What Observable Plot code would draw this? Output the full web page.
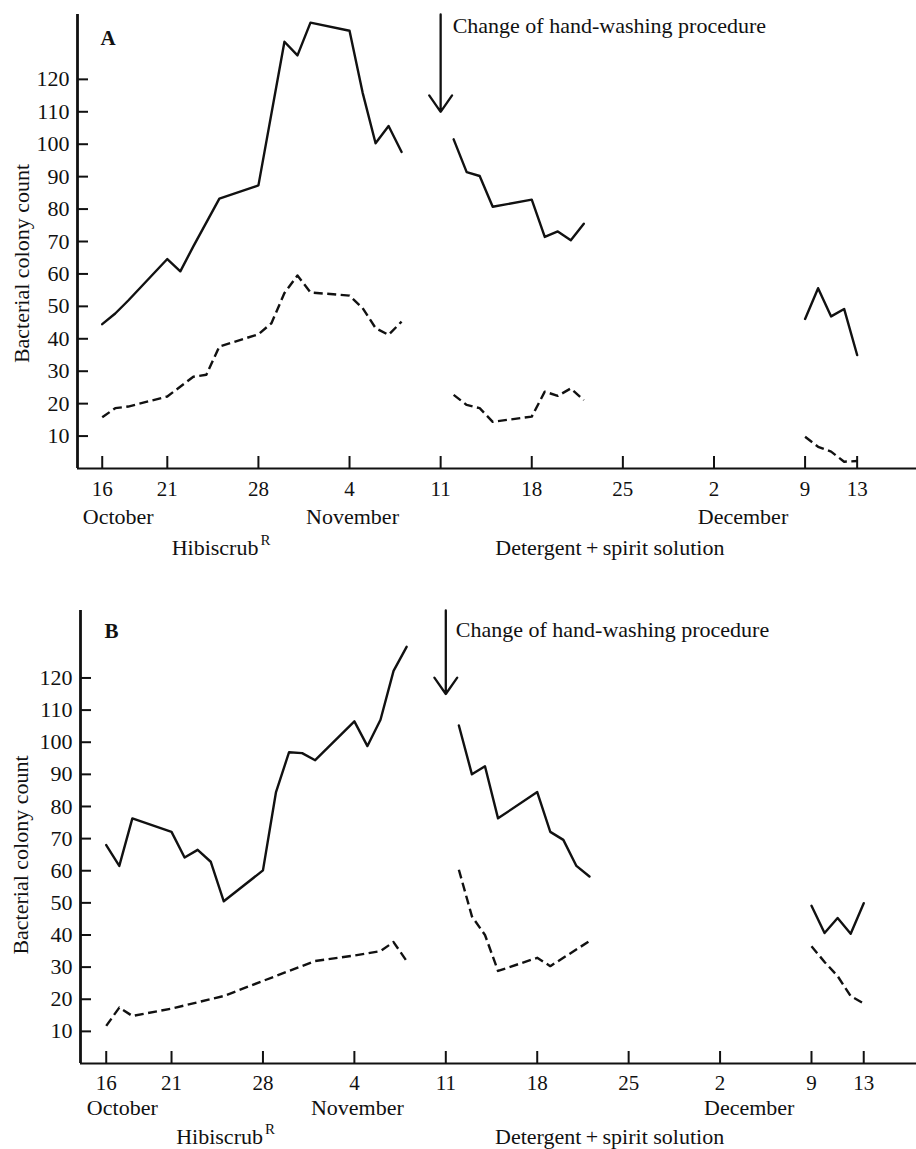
<!DOCTYPE html>
<html>
<head>
<meta charset="utf-8">
<script src="https://cdn.jsdelivr.net/npm/d3@7"></script>
<script src="https://cdn.jsdelivr.net/npm/@observablehq/plot@0.6"></script>
<style>
  html, body { margin: 0; padding: 0; background: #fff; }
  #chart svg { display: block; }
</style>
</head>
<body>
<div id="chart"></div>
<script>
// ---------- Data ----------
const xTickDates = ["1974-10-16","1974-10-21","1974-10-28","1974-11-04","1974-11-11","1974-11-18","1974-11-25","1974-12-02","1974-12-09","1974-12-13"];
const yTicks = [10,20,30,40,50,60,70,80,90,100,110,120];
const monthLabels = ["October","November","December"];
const monthLabelDates = ["1974-10-17","1974-11-04","1974-12-04"];
const firstTreatmentLabel = "Hibiscrub";
const firstTreatmentDate = "1974-10-28";
const secondTreatmentLabel = "Detergent\u2009+\u2009spirit solution";
const secondTreatmentDate = "1974-11-24";
const superscriptLabel = "R";
const changeDate = "1974-11-11";
const changeLabel = "Change of hand-washing procedure";
const yLabel = "Bacterial colony count";

// Panel A
const aSolidDates = ["1974-10-16","1974-10-17","1974-10-18","1974-10-21","1974-10-22","1974-10-23","1974-10-25","1974-10-28","1974-10-30","1974-10-31","1974-11-01","1974-11-04","1974-11-05","1974-11-06","1974-11-07","1974-11-08",
  "1974-11-11",
  "1974-11-12","1974-11-13","1974-11-14","1974-11-15","1974-11-18","1974-11-19","1974-11-20","1974-11-21","1974-11-22",
  "1974-12-02",
  "1974-12-09","1974-12-10","1974-12-11","1974-12-12","1974-12-13"];
const aSolidValues = [44.5,47.8,51.8,64.6,60.8,68.5,83.2,87.3,131.6,127.4,137.5,135,116,100.3,105.6,97.6,
  null,
  101.5,91.4,90.2,80.7,82.9,71.4,73.1,70.4,75.5,
  null,
  46.1,55.6,46.9,49.2,35];
const aDashedDates = ["1974-10-16","1974-10-17","1974-10-18","1974-10-21","1974-10-23","1974-10-24","1974-10-25","1974-10-28","1974-10-29","1974-10-30","1974-10-31","1974-11-01","1974-11-04","1974-11-05","1974-11-06","1974-11-07","1974-11-08",
  "1974-11-11",
  "1974-11-12","1974-11-13","1974-11-14","1974-11-15","1974-11-18","1974-11-19","1974-11-20","1974-11-21","1974-11-22",
  "1974-12-02",
  "1974-12-09","1974-12-10","1974-12-11","1974-12-12","1974-12-13"];
const aDashedValues = [15.8,18.6,19.1,22.2,28.3,28.9,37.6,41.4,44.8,54.1,59.5,54.3,53.3,49.5,43.3,41.2,45.3,
  null,
  22.7,19.6,18.6,14.4,16,23.7,22.4,24.7,21.1,
  null,
  9.8,6.7,5.2,2.1,2.3];

// Panel B
const bSolidDates = ["1974-10-16","1974-10-17","1974-10-18","1974-10-21","1974-10-22","1974-10-23","1974-10-24","1974-10-25","1974-10-28","1974-10-29","1974-10-30","1974-10-31","1974-11-01","1974-11-04","1974-11-05","1974-11-06","1974-11-07","1974-11-08",
  "1974-11-11",
  "1974-11-12","1974-11-13","1974-11-14","1974-11-15","1974-11-18","1974-11-19","1974-11-20","1974-11-21","1974-11-22",
  "1974-12-02",
  "1974-12-09","1974-12-10","1974-12-11","1974-12-12","1974-12-13"];
const bSolidValues = [68,61.5,76.3,72.1,64.1,66.5,62.8,50.5,60.1,84.5,96.9,96.6,94.4,106.5,98.8,107,122.2,129.7,
  null,
  105.2,90,92.5,76.3,84.5,72.1,69.6,61.5,58.2,
  null,
  49.1,40.6,45.3,40.4,49.9];
const bDashedDates = ["1974-10-16","1974-10-17","1974-10-18","1974-10-21","1974-10-25","1974-10-28","1974-11-01","1974-11-04","1974-11-06","1974-11-07","1974-11-08",
  "1974-11-11",
  "1974-11-12","1974-11-13","1974-11-14","1974-11-15","1974-11-18","1974-11-19","1974-11-22",
  "1974-12-02",
  "1974-12-09","1974-12-10","1974-12-11","1974-12-12","1974-12-13"];
const bDashedValues = [11.7,17.4,14.8,17.1,21,25.7,31.9,33.6,35,37.8,31.9,
  null,
  60.3,45.8,40,28.8,32.9,30.3,38.1,
  null,
  36.5,31.6,27.2,21,18.7];

// ---------- Build ----------
const DAY = 864e5;
const origin = new Date("1974-10-16");
const toRows = (dates, values) => dates.map((d, i) => ({date: new Date(d), value: values[i]}));
const xTicks = xTickDates.map(d => new Date(d));
const months = monthLabels.map((m, i) => ({label: m, date: new Date(monthLabelDates[i])}));
const firstTreatment = [{label: firstTreatmentLabel, date: new Date(firstTreatmentDate)}];
const secondTreatment = [{label: secondTreatmentLabel, date: new Date(secondTreatmentDate)}];
const supers = [{label: superscriptLabel, date: new Date(firstTreatmentDate)}];
const FONT = "'Liberation Serif', 'Times New Roman', Times, serif";
const INK = "#111";

function panel(cfg) {
  const frameH = cfg.height - cfg.marginTop - cfg.marginBottom;
  const frameW = 916 - cfg.marginLeft;
  const xDomain = [new Date(+origin + cfg.xDays[0] * DAY), new Date(+origin + cfg.xDays[1] * DAY)];
  const arrowRows = [{date: new Date(changeDate), y1: cfg.yMax, y2: cfg.arrowTip}];
  return Plot.plot({
    width: 916,
    height: cfg.height,
    marginTop: cfg.marginTop,
    marginBottom: cfg.marginBottom,
    marginLeft: cfg.marginLeft,
    marginRight: 0,
    style: {fontFamily: FONT, color: INK, background: "#fff", overflow: "visible"},
    x: {type: "utc", domain: xDomain, label: null},
    y: {domain: [0, cfg.yMax], label: null},
    marks: [
      // axis lines
      Plot.ruleY([0], {stroke: INK, strokeWidth: 2.2}),
      Plot.ruleX([xDomain[0]], {stroke: INK, strokeWidth: 2.8}),
      // inward ticks
      Plot.tickX(xTicks, {x: d => d, stroke: INK, strokeWidth: 2, insetTop: frameH - 12}),
      Plot.tickY(yTicks, {y: d => d, stroke: INK, strokeWidth: 2, insetRight: frameW - 11}),
      // tick labels
      Plot.axisX({ticks: xTicks, tickSize: 0, tickPadding: cfg.xPad, tickFormat: d => d.getUTCDate(), fontSize: 21, fill: INK, label: null}),
      Plot.axisY({ticks: yTicks, tickSize: 0, tickPadding: 8, fontSize: 22, fill: INK, label: null}),
      // month and treatment labels
      Plot.text(months, {x: "date", text: "label", frameAnchor: "bottom", dy: cfg.monthDy, dx: 3, fontSize: 22, fill: INK, textAnchor: "middle", lineAnchor: "middle"}),
      Plot.text(firstTreatment, {x: "date", text: "label", frameAnchor: "bottom", dy: cfg.treatDy, textAnchor: "end", fontSize: 22, fill: INK, lineAnchor: "middle"}),
      Plot.text(supers, {x: "date", text: "label", frameAnchor: "bottom", dy: cfg.treatDy - 7, dx: 2, textAnchor: "start", fontSize: 15, fill: INK, lineAnchor: "middle"}),
      Plot.text(secondTreatment, {x: "date", text: "label", frameAnchor: "bottom", dy: cfg.treatDy, dx: cfg.treat2Dx, textAnchor: "middle", fontSize: 22, fill: INK, lineAnchor: "middle"}),
      // y label
      Plot.text([yLabel], {frameAnchor: "left", rotate: -90, dx: cfg.yLabelDx, dy: cfg.yLabelDy, textAnchor: "middle", fontSize: 22, fill: INK, lineAnchor: "middle"}),
      // panel letter
      Plot.text([cfg.letter], {frameAnchor: "top-left", dx: cfg.letterDx, dy: cfg.letterDy, textAnchor: "start", fontSize: 21, fontWeight: "bold", fill: INK, lineAnchor: "middle"}),
      // change arrow and note
      Plot.arrow(arrowRows, {x1: "date", x2: "date", y1: "y1", y2: "y2", stroke: INK, strokeWidth: 2.3, headLength: 13, headAngle: 70}),
      Plot.text(arrowRows, {x: "date", y: "y1", text: () => changeLabel, dx: cfg.noteDx, dy: cfg.noteDy, textAnchor: "start", lineAnchor: "top", fontSize: 22, fill: INK}),
      // data
      Plot.line(toRows(cfg.solidDates, cfg.solidValues), {x: "date", y: "value", stroke: INK, strokeWidth: 2.4}),
      Plot.line(toRows(cfg.dashedDates, cfg.dashedValues), {x: "date", y: "value", stroke: INK, strokeWidth: 2.4, strokeDasharray: "9,4.5", strokeLinecap: "butt"})
    ]
  });
}

const chart = document.getElementById("chart");
chart.append(panel({
  letter: "A", height: 596, marginTop: 14, marginBottom: 128, marginLeft: 77,
  xDays: [-1.9, 62.56], yMax: 140, arrowTip: 110,
  xPad: 13, monthDy: 48, treatDy: 79, treat2Dx: 0, yLabelDx: -56, yLabelDy: 22, letterDx: 23, letterDy: 24,
  noteDx: 12, noteDy: 3,
  solidDates: aSolidDates, solidValues: aSolidValues, dashedDates: aDashedDates, dashedValues: aDashedValues
}));
chart.append(panel({
  letter: "B", height: 553, marginTop: 14, marginBottom: 86, marginLeft: 80,
  xDays: [-1.97, 62.04], yMax: 141, arrowTip: 115,
  xPad: 12, monthDy: 44, treatDy: 73, treat2Dx: -6, yLabelDx: -60, yLabelDy: 18, letterDx: 24, letterDy: 21,
  noteDx: 10, noteDy: 11,
  solidDates: bSolidDates, solidValues: bSolidValues, dashedDates: bDashedDates, dashedValues: bDashedValues
}));
</script>
</body>
</html>
